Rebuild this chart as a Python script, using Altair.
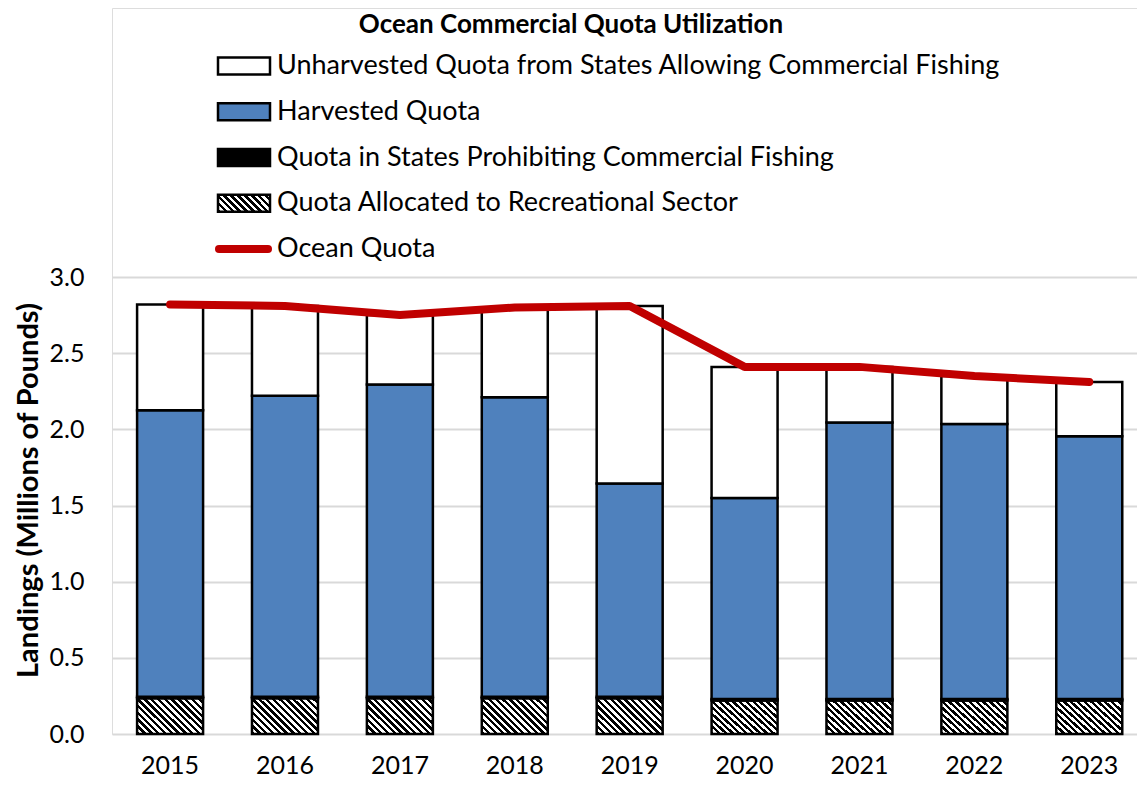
import altair as alt
import pandas as pd

title_text = "Ocean Commercial Quota Utilization"
years = ["2015", "2016", "2017", "2018", "2019", "2020", "2021", "2022", "2023"]
recreational = [0.235, 0.235, 0.235, 0.235, 0.235, 0.22, 0.22, 0.22, 0.22]
prohibited = [0.01, 0.01, 0.01, 0.01, 0.01, 0.01, 0.01, 0.01, 0.01]
harvested = [1.88, 1.975, 2.05, 1.965, 1.40, 1.32, 1.815, 1.805, 1.725]
unharvested = [0.695, 0.59, 0.455, 0.59, 1.165, 0.86, 0.365, 0.315, 0.355]
ocean_quota = [2.82, 2.81, 2.75, 2.80, 2.81, 2.41, 2.41, 2.35, 2.31]

legend_labels = [
    "Unharvested Quota from States Allowing Commercial Fishing",
    "Harvested Quota",
    "Quota in States Prohibiting Commercial Fishing",
    "Quota Allocated to Recreational Sector",
    "Ocean Quota",
]
legend_kind = ["solid", "solid", "solid", "hatch", "line"]
legend_fill = ["white", "#4F81BD", "black", "none", "none"]

BLUE = "#4F81BD"
RED = "#C00000"
FONT = "Lato"


def hatch(n, ratio):
    # diagonal "\" stripes via a sharp-stop linear gradient (bbox units)
    g = 1 + ratio * ratio
    s = (1 + ratio) / g
    stops = []
    for i in range(n):
        a, m, b = i / n, (i + 0.5) / n, (i + 1) / n
        stops += [
            {"offset": a, "color": "black"},
            {"offset": m, "color": "black"},
            {"offset": m, "color": "white"},
            {"offset": b, "color": "white"},
        ]
    return {
        "gradient": "linear",
        "x1": 0, "y1": 1,
        "x2": s, "y2": 1 - s * ratio,
        "stops": stops,
    }


df = pd.DataFrame({
    "year": years,
    "rec": recreational,
    "proh": prohibited,
    "harv": harvested,
    "unharv": unharvested,
    "quota": ocean_quota,
})

xscale = alt.Scale(paddingInner=0.4256, paddingOuter=0.1733, align=0.63)
yscale = alt.Scale(domain=[0, 3], range=[726, 269], nice=False, zero=True)
xaxis = alt.Axis(title=None, labelFontSize=25, labelPadding=19, ticks=False,
                 domain=False, labelAngle=0, labelColor="black", labelFont=FONT)
yaxis = alt.Axis(title="Landings (Millions of Pounds)", values=[0, 0.5, 1, 1.5, 2, 2.5, 3],
                 format=".1f", labelFontSize=25, labelPadding=28, ticks=False, domain=False,
                 grid=True, gridColor="#d9d9d9", gridWidth=2, labelColor="black",
                 labelFont=FONT, titleFont=FONT, titleFontSize=29, titleFontWeight="bold",
                 titleColor="black", titleAngle=270, titleX=-84, titleY=482,
                 titleAlign="center", titleBaseline="middle")

base = alt.Chart(df).transform_calculate(
    b0="0",
    b1="datum.rec",
    b2="datum.rec + datum.proh",
    b3="datum.rec + datum.proh + datum.harv",
    b4="datum.rec + datum.proh + datum.harv + datum.unharv",
).encode(x=alt.X("year:N", sort=years, scale=xscale, axis=xaxis))


def seg(lo, hi, fill):
    return base.mark_bar(fill=fill, stroke="black", strokeWidth=2.5).encode(
        y=alt.Y(f"{hi}:Q", scale=yscale, axis=yaxis),
        y2=alt.Y2(f"{lo}:Q"),
    )


rec_bar = seg("b0", "b1", hatch(15, 36.0 / 66.0))
proh_bar = seg("b1", "b2", "black")
harv_bar = seg("b2", "b3", BLUE)
unharv_bar = seg("b3", "b4", "white")
quota_line = base.mark_line(color=RED, strokeWidth=8, strokeCap="round", strokeJoin="round").encode(
    y=alt.Y("quota:Q", scale=yscale, axis=yaxis)
)

main = alt.layer(rec_bar, proh_bar, harv_bar, unharv_bar, quota_line)

leg = pd.DataFrame({"label": legend_labels, "kind": legend_kind, "fill": legend_fill})
ly = alt.Y("label:N", sort=legend_labels,
           scale=alt.Scale(type="point", range=[58, 241], padding=0), axis=None)
rect_path = "M-1,-0.327H1V0.327H-1Z"
lbase = alt.Chart(leg)

sw_solid = lbase.transform_filter("datum.kind == 'solid'").mark_point(
    shape=rect_path, size=2704, filled=True, stroke="black", strokeWidth=2.5, opacity=1
).encode(x=alt.value(132), y=ly, fill=alt.Fill("fill:N", scale=None))
sw_hatch = lbase.transform_filter("datum.kind == 'hatch'").mark_point(
    shape=rect_path, size=2704, filled=True, fill=hatch(10, 17.0 / 52.0),
    stroke="black", strokeWidth=2.5, opacity=1
).encode(x=alt.value(132), y=ly)
sw_line = lbase.transform_filter("datum.kind == 'line'").mark_rule(
    color=RED, strokeWidth=8, strokeCap="round"
).encode(x=alt.value(107), x2=alt.value(156), y=ly)
leg_text = lbase.mark_text(align="left", baseline="middle", font=FONT, fontSize=27,
                           color="black").encode(x=alt.value(165), y=ly, text="label:N")

title = alt.Chart(pd.DataFrame({"t": [title_text]})).mark_text(
    align="center", baseline="alphabetic", font=FONT, fontSize=26, fontWeight="bold", color="black"
).encode(x=alt.value(459), y=alt.value(25), text="t:N")

legend = alt.layer(sw_solid, sw_hatch, sw_line, leg_text, title)

chart = alt.layer(main, legend).resolve_scale(y="independent").properties(
    width=1025, height=726,
    autosize=alt.AutoSizeParams(type="none"),
    padding={"left": 104, "top": 0, "right": 0, "bottom": 46},
).configure_view(stroke=None).configure(background="white")

chart.save("out.html", embed_options={"renderer": "svg", "actions": False})
